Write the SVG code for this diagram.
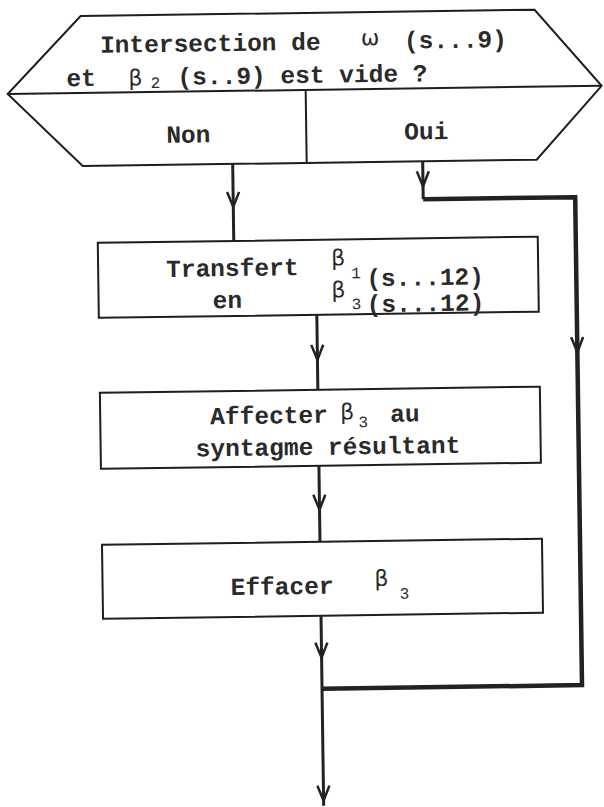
<svg xmlns="http://www.w3.org/2000/svg" xmlns:xlink="http://www.w3.org/1999/xlink" width="604" height="807" viewBox="0 0 604 807">
<style>
  .shape { fill: none; stroke: #1e1e1e; stroke-width: 2; stroke-linejoin: miter; }
  .conn { fill: none; stroke: #222; stroke-width: 3; }
  .loop { fill: none; stroke: #222; stroke-width: 4.5; }
  .t { font-family: "Liberation Mono", "DejaVu Sans Mono", monospace; font-size: 24.5px; font-weight: bold; fill: #2a2a2a; }
  .g { font-family: "DejaVu Sans", "Noto Sans", sans-serif; font-size: 22px; fill: #2a2a2a; }
  .s { font-family: "Liberation Mono", "DejaVu Sans Mono", monospace; font-size: 16px; fill: #2a2a2a; }
</style>
<defs>
  <path id="ah" d="M -6 -15 L 0 0 L 6 -15" fill="none" stroke="#222" stroke-width="2.5"/>
</defs>
<rect width="604" height="807" fill="#ffffff"/>
<g transform="rotate(-0.8 302 400)">
  <g id="decision">
    <polygon class="shape" points="86,13 540,13 606,90 540,163 86,163 12,90"/>
    <line class="shape" x1="12" y1="90" x2="606" y2="90"/>
    <line class="shape" x1="310" y1="90" x2="310" y2="163"/>
    <text class="t" x="105" y="50">Intersection de</text>
    <text class="g" x="366" y="46">ω</text>
    <text class="t" x="409" y="50">(s...9)</text>
    <text class="t" x="71" y="83">et</text>
    <text class="g" x="133" y="83">β</text>
    <text class="s" x="155" y="86">2</text>
    <text class="t" x="182" y="83">(s..9) est vide ?</text>
    <text class="t" x="170" y="141">Non</text>
    <text class="t" x="408" y="141">Oui</text>
  </g>
  <g id="box-transfert">
    <rect class="shape" x="100" y="240" width="440" height="75"/>
    <text class="t" x="168" y="275">Transfert</text>
    <text class="t" x="214" y="307">en</text>
    <text class="g" x="333" y="266">β</text>
    <text class="s" x="353" y="279">1</text>
    <text class="t" x="368" y="287">(s...12)</text>
    <text class="g" x="333" y="298">β</text>
    <text class="s" x="353" y="310">3</text>
    <text class="t" x="368" y="313">(s...12)</text>
  </g>
  <g id="box-affecter">
    <rect class="shape" x="100" y="390" width="440" height="76"/>
    <text class="t" x="210" y="423">Affecter</text>
    <text class="g" x="340" y="420">β</text>
    <text class="s" x="358" y="428">3</text>
    <text class="t" x="390" y="423">au</text>
    <text class="t" x="195" y="455">syntagme résultant</text>
  </g>
  <g id="box-effacer">
    <rect class="shape" x="100" y="542" width="440" height="74"/>
    <text class="t" x="228" y="594">Effacer</text>
    <text class="g" x="372" y="587">β</text>
    <text class="s" x="397" y="600">3</text>
  </g>
  <g id="connectors">
    <line class="conn" x1="236" y1="163" x2="236" y2="240"/>
    <use xlink:href="#ah" x="236" y="206"/>
    <polyline class="conn" points="426,163 426,201"/>
    <use xlink:href="#ah" x="426" y="188"/>
    <polyline class="loop" points="426,201 578,201 578,689 318,689"/>
    <use xlink:href="#ah" x="578" y="356"/>
    <line class="conn" x1="318" y1="315" x2="318" y2="390"/>
    <use xlink:href="#ah" x="318" y="360"/>
    <line class="conn" x1="318" y1="466" x2="318" y2="542"/>
    <use xlink:href="#ah" x="318" y="510"/>
    <line class="conn" x1="318" y1="616" x2="318" y2="806"/>
    <use xlink:href="#ah" x="318" y="658"/>
    <use xlink:href="#ah" x="318" y="801"/>
  </g>
</g>
</svg>
